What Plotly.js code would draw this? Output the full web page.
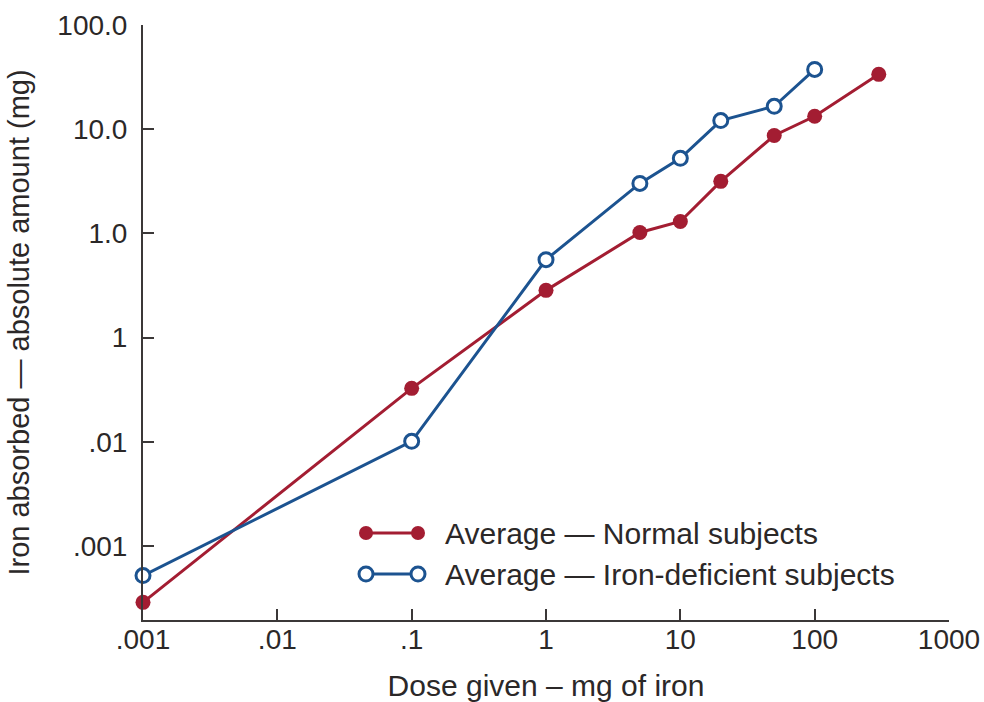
<!DOCTYPE html>
<html>
<head>
<meta charset="utf-8">
<script src="https://cdn.plot.ly/plotly-3.0.1.min.js"></script>
<style>html,body{margin:0;padding:0;background:#fff;}#chart{width:984px;height:702px;}</style>
</head>
<body>
<div id="chart"></div>
<script>
// Data
const normalDose = [0.001, 0.1, 1, 5, 10, 20, 50, 100, 300];
const normalAbsorbed = [0.000288, 0.0326, 0.284, 1.02, 1.30, 3.16, 8.7, 13.3, 33.6];
const deficientDose = [0.001, 0.1, 1, 5, 10, 20, 50, 100];
const deficientAbsorbed = [0.00052, 0.0101, 0.56, 3.02, 5.25, 12.1, 16.6, 37.5];

const xTickVals = [0.001, 0.01, 0.1, 1, 10, 100, 1000];
const xTickText = ['.001', '.01', '.1', '1', '10', '100', '1000'];
const yTickVals = [0.001, 0.01, 0.1, 1, 10, 100];
const yTickText = ['.001', '.01', '1', '1.0', '10.0', '100.0'];

const legendLabels = ['Average — Normal subjects', 'Average — Iron-deficient subjects'];

const RED = '#a31d32';
const BLUE = '#1c5390';
const AXIS = '#3b3838';
const TEXT = '#2b2828';
const FONT = 'Liberation Sans, Arial, Helvetica, sans-serif';

const traces = [
  {
    x: normalDose, y: normalAbsorbed, type: 'scatter', mode: 'lines+markers',
    name: legendLabels[0], cliponaxis: false,
    line: {color: RED, width: 3},
    marker: {color: RED, size: 15, line: {width: 0}}
  },
  {
    x: deficientDose, y: deficientAbsorbed, type: 'scatter', mode: 'lines+markers',
    name: legendLabels[1], cliponaxis: false,
    line: {color: BLUE, width: 3},
    marker: {color: '#ffffff', size: 14, line: {color: BLUE, width: 3}}
  }
];

// Plot area geometry (pixels) to place custom legend
const L = 143, R = 949, T = 25, B = 620;
const px = v => (v - L) / (R - L);
const py = v => (B - v) / (B - T);

const legendRows = [
  {y: 533, color: RED, fill: RED},
  {y: 574, color: BLUE, fill: '#ffffff'}
];
const shapes = [];
const annotations = [];
legendRows.forEach((r, i) => {
  shapes.push({type: 'line', xref: 'paper', yref: 'paper', x0: px(366), x1: px(418), y0: py(r.y), y1: py(r.y),
    line: {color: r.color, width: 3}});
  [366, 418].forEach(cx => {
    shapes.push({type: 'circle', xref: 'paper', yref: 'paper', xsizemode: 'pixel', ysizemode: 'pixel',
      xanchor: px(cx), yanchor: py(r.y), x0: -7, x1: 7, y0: -7, y1: 7,
      fillcolor: r.fill, line: {color: r.color, width: i === 0 ? 0 : 3}});
  });
  annotations.push({xref: 'paper', yref: 'paper', x: px(443), y: py(r.y), xanchor: 'left', yanchor: 'middle',
    text: legendLabels[i], showarrow: false, font: {family: FONT, size: 30, color: TEXT}});
});

const layout = {
  width: 984, height: 702,
  margin: {l: L, r: 984 - R, t: T, b: 702 - B},
  paper_bgcolor: '#ffffff', plot_bgcolor: '#ffffff',
  showlegend: false,
  font: {family: FONT, size: 28, color: TEXT},
  xaxis: {
    type: 'log', range: [-3, 3],
    tickvals: xTickVals, ticktext: xTickText,
    ticks: 'inside', ticklen: 11, tickwidth: 2, tickcolor: AXIS,
    showline: true, linewidth: 2, linecolor: AXIS,
    showgrid: false, zeroline: false, automargin: false,
    tickfont: {family: FONT, size: 28, color: TEXT},
    ticklabelstandoff: -7,
    title: {text: 'Dose given – mg of iron', font: {family: FONT, size: 30, color: TEXT}, standoff: 22}
  },
  yaxis: {
    type: 'log', range: [-3.71, 2],
    tickvals: yTickVals, ticktext: yTickText,
    ticks: 'inside', ticklen: 11, tickwidth: 2, tickcolor: AXIS,
    showline: true, linewidth: 2, linecolor: AXIS,
    showgrid: false, zeroline: false, automargin: false,
    tickfont: {family: FONT, size: 28, color: TEXT},
    ticklabelstandoff: 8,
    title: {text: 'Iron absorbed — absolute amount (mg)', font: {family: FONT, size: 29, color: TEXT}, standoff: 19}
  },
  shapes: shapes,
  annotations: annotations
};

Plotly.newPlot('chart', traces, layout, {displayModeBar: false, staticPlot: true});
</script>
</body>
</html>
